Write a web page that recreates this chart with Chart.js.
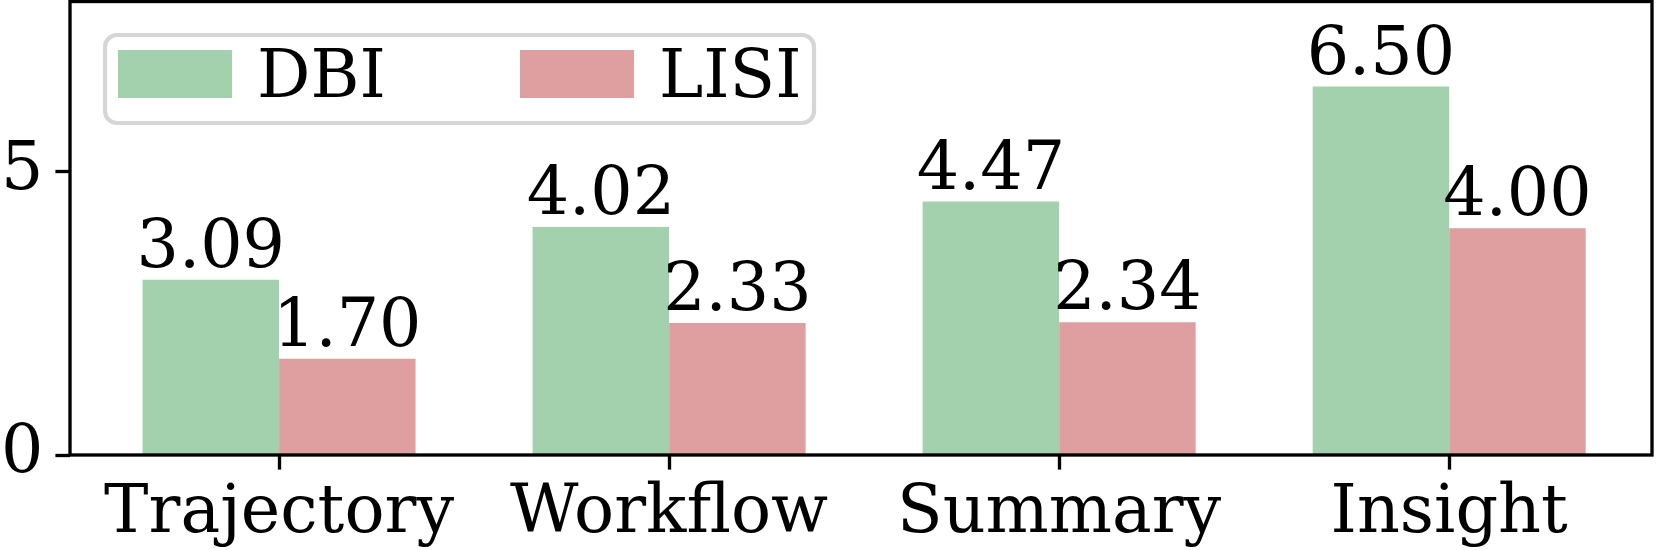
<!DOCTYPE html>
<html>
<head>
<meta charset="utf-8">
<script src="https://cdn.jsdelivr.net/npm/chart.js@4.4.0/dist/chart.umd.min.js"></script>
<style>
html,body{margin:0;padding:0;background:#fff;}
#wrap{width:1656px;height:550px;}
</style>
</head>
<body>
<div id="wrap"><canvas id="c" width="1656" height="550"></canvas></div>
<script>
const categories = ['Trajectory', 'Workflow', 'Summary', 'Insight'];
const dbiValues = [3.09, 4.02, 4.47, 6.50];
const lisiValues = [1.70, 2.33, 2.34, 4.00];
const seriesNames = ['DBI', 'LISI'];
const yTickValues = [0, 5];
const yMax = 8;

const FONT = "'DejaVu Serif', serif";
const FS = 66.67;
const LW = 3.33;
const GREEN = '#a3d0ad';
const RED = '#df9fa0';

const framePlugin = {
  id: 'frame',
  afterDatasetsDraw(chart) {
    const {ctx, chartArea: a} = chart;
    ctx.save();
    ctx.strokeStyle = '#000';
    ctx.lineWidth = LW;
    ctx.strokeRect(a.left, a.top, a.right - a.left, a.bottom - a.top);
    ctx.restore();
    ctx.save();
    ctx.font = FS + 'px ' + FONT;
    ctx.fillStyle = '#000';
    ctx.textAlign = 'center';
    ctx.textBaseline = 'alphabetic';
    chart.data.datasets.forEach((ds, di) => {
      const meta = chart.getDatasetMeta(di);
      meta.data.forEach((el, i) => {
        const v = ds.data[i].y;
        ctx.fillText(v.toFixed(2), el.x, el.y - 13);
      });
    });
    ctx.restore();
  },
  afterDraw(chart) {
    const {ctx} = chart;
    ctx.save();
    const x0 = 105, y0 = 35, x1 = 814, y1 = 123, r = 12;
    ctx.beginPath();
    ctx.moveTo(x0 + r, y0);
    ctx.lineTo(x1 - r, y0);
    ctx.arcTo(x1, y0, x1, y0 + r, r);
    ctx.lineTo(x1, y1 - r);
    ctx.arcTo(x1, y1, x1 - r, y1, r);
    ctx.lineTo(x0 + r, y1);
    ctx.arcTo(x0, y1, x0, y1 - r, r);
    ctx.lineTo(x0, y0 + r);
    ctx.arcTo(x0, y0, x0 + r, y0, r);
    ctx.closePath();
    ctx.fillStyle = 'rgba(255,255,255,0.8)';
    ctx.fill();
    ctx.strokeStyle = '#d6d6d6';
    ctx.lineWidth = 4.2;
    ctx.stroke();
    const sw = [118, 520];
    const tx = [257, 659];
    ctx.font = FS + 'px ' + FONT;
    ctx.textAlign = 'left';
    ctx.textBaseline = 'alphabetic';
    chart.data.datasets.forEach((ds, di) => {
      ctx.fillStyle = ds.backgroundColor;
      ctx.fillRect(sw[di], 50, 114, 48);
      ctx.fillStyle = '#000';
      ctx.fillText(ds.label, tx[di], 97);
    });
    ctx.restore();
  }
};

const mk = (vals) => categories.map((c, i) => ({x: i, y: vals[i]}));

new Chart(document.getElementById('c'), {
  type: 'bar',
  data: {
    datasets: [
      {label: seriesNames[0], data: mk(dbiValues), backgroundColor: GREEN, borderWidth: 0},
      {label: seriesNames[1], data: mk(lisiValues), backgroundColor: RED, borderWidth: 0}
    ]
  },
  options: {
    responsive: false,
    animation: false,
    devicePixelRatio: 1,
    categoryPercentage: 0.7,
    barPercentage: 1.0,
    layout: {padding: {top: 1.5, right: 4, left: 0, bottom: 0}},
    plugins: {legend: {display: false}, tooltip: {enabled: false}},
    scales: {
      x: {
        type: 'linear',
        min: -0.536,
        max: 3.52,
        offset: false,
        grid: {display: true, offset: false, drawOnChartArea: false, drawTicks: true, tickLength: 14.6, tickWidth: LW, tickColor: '#000'},
        border: {display: false},
        afterBuildTicks: (axis) => { axis.ticks = categories.map((c, i) => ({value: i})); },
        afterFit: (axis) => { axis.height = 95; axis.paddingLeft = 0; axis.paddingRight = 0; axis.paddingTop = 0; axis.paddingBottom = 0; },
        ticks: {
          autoSkip: false,
          maxRotation: 0,
          padding: 5,
          color: '#000',
          font: {family: FONT, size: FS},
          callback: (v) => categories[Math.round(v)]
        }
      },
      y: {
        type: 'linear',
        min: 0,
        max: yMax,
        grid: {display: true, drawOnChartArea: false, drawTicks: true, tickLength: 14.6, tickWidth: LW, tickColor: '#000'},
        border: {display: false},
        afterBuildTicks: (axis) => { axis.ticks = yTickValues.map(v => ({value: v})); },
        afterFit: (axis) => { axis.width = 70; axis.paddingLeft = 0; axis.paddingRight = 0; axis.paddingTop = 0; axis.paddingBottom = 0; },
        ticks: {
          padding: 12,
          color: '#000',
          font: {family: FONT, size: FS},
          callback: (v) => String(v)
        }
      }
    }
  },
  plugins: [framePlugin]
});
</script>
</body>
</html>
